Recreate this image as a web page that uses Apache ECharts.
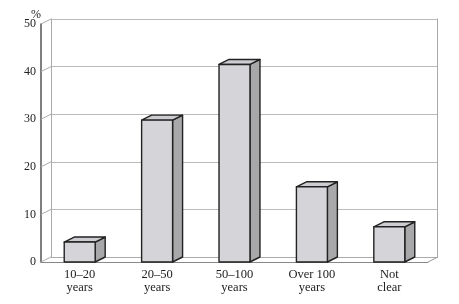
<!DOCTYPE html>
<html>
<head>
<meta charset="utf-8">
<script src="https://cdn.jsdelivr.net/npm/echarts@6/dist/echarts.min.js"></script>
<style>html,body{margin:0;padding:0;background:#fff}#container{width:459px;height:304px}</style>
</head>
<body>
<div id="container"></div>
<script>
var categories = ['10–20\nyears', '20–50\nyears', '50–100\nyears', 'Over 100\nyears', 'Not\nclear'];
var values = [4.2, 29.8, 41.5, 15.8, 7.4];
var yTicks = [0, 10, 20, 30, 40, 50];

// depth of the fake 3d
var DX = 10, DY = -5;
var font = 'Liberation Serif';

var dom = document.getElementById('container');
var myChart = echarts.init(dom);

function renderBar(params, api) {
    var i = api.value(0);
    var top = api.coord([i, api.value(1)]);
    var base = api.coord([i, 0]);
    var w = api.size([1, 0])[0] * 0.4;
    var x0 = top[0] - w / 2, x1 = top[0] + w / 2;
    var y0 = top[1], y1 = base[1];
    var st = function (fill) {
        return { fill: fill, stroke: '#222', lineWidth: 1.4, lineJoin: 'round' };
    };
    return {
        type: 'group',
        children: [
            { type: 'polygon', shape: { points: [[x1, y1], [x1 + DX, y1 + DY], [x1 + DX, y0 + DY], [x1, y0]] }, style: st('#a8a8ab') },
            { type: 'polygon', shape: { points: [[x0, y0], [x0 + DX, y0 + DY], [x1 + DX, y0 + DY], [x1, y0]] }, style: st('#cdcdd1') },
            { type: 'rect', shape: { x: x0, y: y0, width: w, height: y1 - y0 }, style: st('#d5d5d9') }
        ]
    };
}

// diagonal lines on the left side wall, plus the right edge of the floor
function renderSide(params, api) {
    var v = api.value(0);
    var p = api.coord([0, v]);
    var half = api.size([1, 0])[0] / 2;
    var x = p[0] - half;
    var kids = [{
        type: 'line',
        shape: { x1: x, y1: p[1], x2: x + DX, y2: p[1] + DY },
        style: { stroke: '#aaa', lineWidth: 1 }
    }];
    if (v === 0) {
        var q = api.coord([categories.length - 1, 0]);
        var xr = q[0] + half;
        kids.push({
            type: 'line',
            shape: { x1: xr, y1: q[1], x2: xr + DX, y2: q[1] + DY },
            style: { stroke: '#999', lineWidth: 1 }
        });
    }
    return { type: 'group', children: kids };
}

option = {
    animation: false,
    title: {
        text: '%',
        left: 26,
        top: 4,
        textStyle: { fontFamily: font, fontSize: 12, fontWeight: 'normal', color: '#222' }
    },
    grid: [
        { left: 51, right: 22, top: 19, bottom: 47 },   // back wall
        { left: 41, right: 31, top: 24, bottom: 42 }    // front plane
    ],
    xAxis: [
        {
            gridIndex: 0, type: 'category', data: categories,
            axisLine: { lineStyle: { color: '#aaa' } },
            axisTick: { show: false }, axisLabel: { show: false }
        },
        {
            gridIndex: 1, type: 'category', data: categories,
            axisLine: { lineStyle: { color: '#888', width: 1 } },
            axisTick: { inside: true, length: 4, lineStyle: { color: '#888' } },
            axisLabel: { fontFamily: font, fontSize: 12.5, color: '#222', lineHeight: 13, margin: 6 }
        }
    ],
    yAxis: [
        {
            gridIndex: 0, type: 'value', min: 0, max: 50, interval: 10,
            axisLine: { show: true, lineStyle: { color: '#aaa' } },
            axisTick: { show: false }, axisLabel: { show: false },
            splitLine: { lineStyle: { color: '#bbb', width: 1 } }
        },
        {
            gridIndex: 0, type: 'value', position: 'right', min: 0, max: 50, interval: 10,
            axisLine: { show: true, lineStyle: { color: '#aaa' } },
            axisTick: { show: false }, axisLabel: { show: false }, splitLine: { show: false }
        },
        {
            gridIndex: 1, type: 'value', min: 0, max: 50, interval: 10,
            axisLine: { show: true, lineStyle: { color: '#555', width: 1.5 } },
            axisTick: { show: false },
            axisLabel: { fontFamily: font, fontSize: 12, color: '#222', margin: 5 },
            splitLine: { show: false }
        }
    ],
    series: [
        {
            type: 'custom', xAxisIndex: 1, yAxisIndex: 2,
            renderItem: renderSide,
            data: yTicks.map(function (v) { return [v]; }),
            silent: true, z: 3
        },
        {
            type: 'custom', xAxisIndex: 1, yAxisIndex: 2,
            renderItem: renderBar,
            encode: { x: 0, y: 1 },
            data: values.map(function (v, i) { return [i, v]; }),
            z: 5
        }
    ]
};
myChart.setOption(option, true);
</script>
</body>
</html>
